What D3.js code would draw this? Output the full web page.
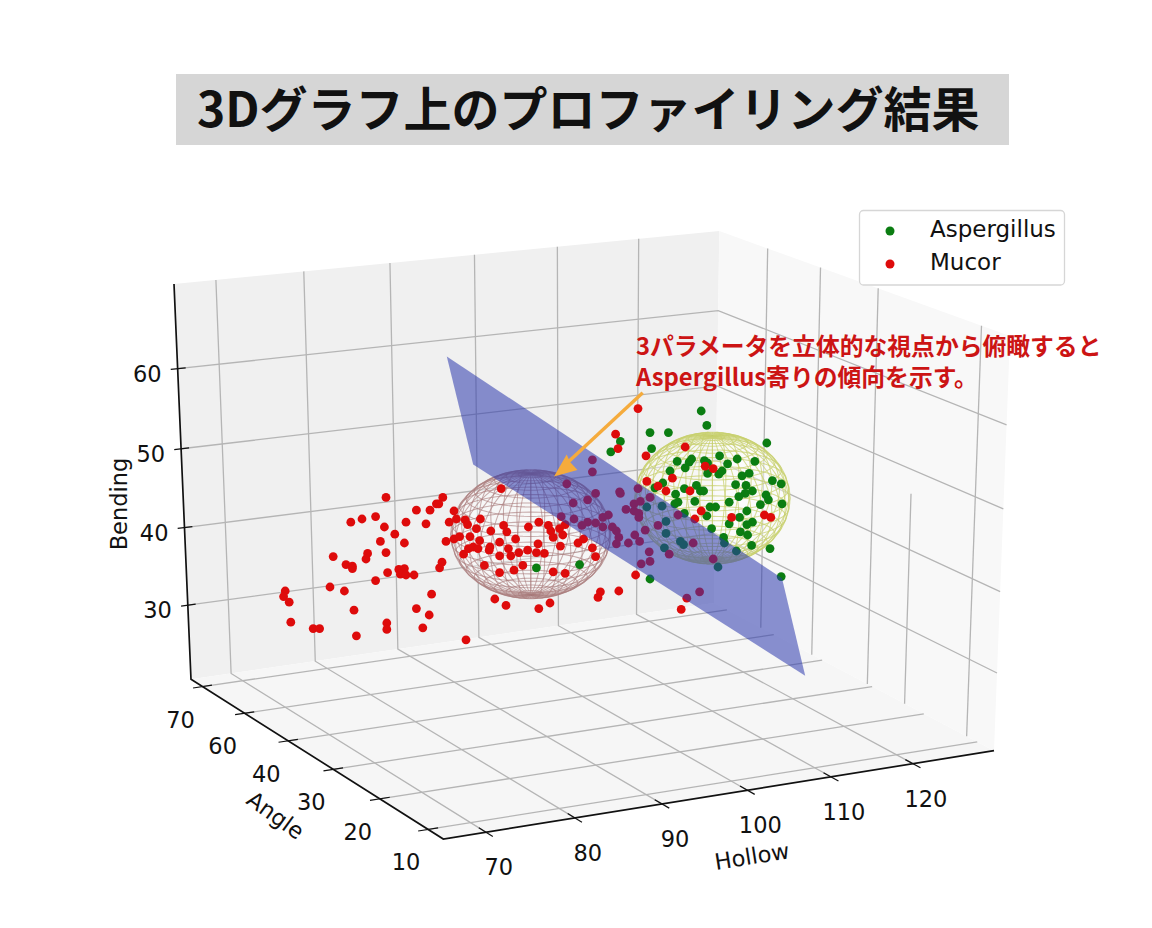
<!DOCTYPE html>
<html lang="ja">
<head>
<meta charset="utf-8">
<script src="https://cdn.jsdelivr.net/npm/d3@7"></script>
<style>
  body { margin: 0; background: #fff; }
  svg { display: block; }
  text { font-family: "DejaVu Sans", sans-serif; fill: #111; }
  .cjk { font-family: "Noto Sans CJK JP", sans-serif; }
</style>
</head>
<body>
<div id="chart"></div>
<script>
var hollowTicks = [70, 80, 90, 100, 110, 120];
var angleTicks = [10, 20, 30, 40, 60, 70];
var bendingTicks = [30, 40, 50, 60];

// Hollow / Bending as read on the picture plane
var mucorHollow = [57.0,64.1,63.3,63.6,60.8,62.5,65.5,52.6,54.0,55.7,56.8,59.5,62.0,64.9,58.1,56.3,59.3,64.5,65.5,50.4,54.7,54.5,57.0,64.0,63.7,52.0,52.8,52.8,57.2,58.6,59.3,58.8,59.5,60.5,55.7,50.0,51.8,44.4,44.2,44.9,62.7,60.8,62.4,53.0,45.1,47.9,48.7,57.1,57.1,61.6,53.3,
  71.4,79.6,65.8,66.9,67.2,68.8,68.3,70.1,71.7,72.1,74.8,76.1,77.3,77.6,77.9,79.1,78.7,79.4,66.2,67.5,68.7,71.2,73.2,76.0,78.8,81.0,81.7,82.8,83.2,66.7,67.3,67.9,68.5,69.9,70.0,72.3,71.2,72.6,73.6,74.7,75.8,76.8,69.3,73.0,74.1,71.2,77.9,79.4,70.6,72.0,76.1,77.5,83.8,83.5,86.1,67.0,
  82.8,82.8,80.4,82.2,83.2,86.3,86.2,87.0,78.9,80.5,82.2,81.5,83.2,84.1,84.8,84.1,85.3,85.8,86.1,85.8,87.3,
  88.5,85.7,86.0,89.5,94.4,96.9,97.9,92.8,92.0,95.0,96.4,100.2,104.3,105.1,88.2,92.4,93.9,88.5,90.0,88.8,88.0,88.0,88.6,88.6,88.1,88.7,89.9,90.0,88.9,93.5,95.6,91.0,95.4,97.9,94.6,96.2,89.6,91.0,89.4];
var mucorBending = [43.2,43.2,42.4,42.4,41.6,41.6,41.5,40.1,40.5,40.8,39.5,40.1,39.9,40.1,38.6,37.7,37.5,37.7,38.0,35.8,36.2,35.5,36.3,35.1,34.4,34.8,34.6,34.3,33.8,34.2,34.3,33.6,33.5,33.5,32.8,32.0,31.5,31.5,30.8,30.1,31.1,29.3,28.5,29.1,27.6,26.8,26.8,27.5,26.7,26.9,25.9,
  44.3,44.9,40.5,40.4,39.8,40.5,39.3,39.0,39.7,38.9,39.5,40.1,39.7,39.0,38.2,38.5,39.3,39.8,38.3,38.3,37.8,37.6,38.0,37.4,37.1,37.5,38.0,36.9,35.8,36.1,36.8,37.0,36.8,36.6,37.0,36.8,35.9,35.9,36.3,36.6,36.3,36.2,34.7,34.1,34.7,33.8,33.9,33.7,30.5,29.7,29.3,30.0,31.4,30.7,31.5,25.4,
  46.4,47.9,42.5,42.9,43.7,43.7,43.9,41.7,40.8,40.5,40.1,39.7,40.0,40.7,41.0,39.5,39.5,39.0,38.2,37.4,37.5,
  54.3,51.1,49.3,48.4,49.5,47.1,46.8,45.6,44.0,44.0,41.5,40.7,41.0,40.7,33.5,36.1,29.2,44.3,43.2,42.7,42.4,41.5,41.2,40.7,38.5,37.7,36.4,35.2,34.9,41.0,40.5,39.7,37.5,35.5,30.6,31.4,45.2,44.6,39.1];
var aspergillusHollow = [96.4,97.1,90.0,92.3,86.3,85.1,90.2,104.6,98.7,93.4,95.2,94.9,94.4,96.8,97.2,99.7,100.9,103.1,92.5,97.2,98.6,99.0,101.5,102.4,105.3,106.4,91.6,90.6,94.3,95.8,96.3,96.7,100.7,102.0,102.8,101.9,101.1,104.5,104.8,93.2,93.5,95.6,99.9,103.8,106.5,97.5,98.2,102.1,97.1,101.2,102.8,102.1,99.9,101.3,102.2,102.7,105.0,
  91.5,93.1,89.6,94.3,92.0,97.7,92.0,99.2,99.3,93.8,94.2,91.8,100.8,98.5,90.0,106.4,75.8,81.2];
var aspergillusBending = [54.0,52.2,51.3,51.3,50.2,48.9,49.3,50.0,48.4,47.7,48.0,47.6,46.9,47.8,47.5,47.4,48.0,47.7,46.5,46.2,46.1,46.5,45.9,46.2,45.3,44.9,45.0,44.4,44.3,44.7,44.0,44.0,44.8,44.7,44.0,43.7,43.3,43.5,42.9,43.6,42.6,42.7,42.6,42.3,42.4,42.0,42.0,41.5,40.9,40.7,40.1,39.8,39.9,38.9,38.5,37.2,36.8,
  42.1,42.4,42.0,41.2,40.2,39.3,38.7,38.2,37.5,37.7,37.3,36.9,36.5,34.5,33.0,33.3,34.4,34.8];

var planeHollow = [64.6, 106.5, 109.4, 67.9];
var planeBending = [60.8, 33.1, 20.9, 47.3];

var width = 1152, height = 928;

var svg = d3.select("#chart").append("svg")
    .attr("width", width)
    .attr("height", height);

// picture plane scales
var viewX = d3.scaleLinear().domain([60, 130]).range([410, 970]);
var viewY = d3.scaleLinear().domain([20, 70]).range([683, 283]);

// box axes, mapped to unit cube
var hollowT = d3.scaleLinear().domain([65.3, 130.1]).range([0, 1]);
var angleT = d3.scalePoint().domain(angleTicks).range([0.055, 0.95]);
var bendingT = d3.scaleLinear().domain([20.3, 70.4]).range([0, 1]);

// fit the perspective of the box from its visible corners
var boxCorners = [
    [0, 0, 0, 443.3, 839],
    [0, 1, 0, 191, 679.3],
    [0, 1, 1, 174, 284],
    [1, 0, 0, 994, 750.7],
    [1, 1, 0, 714, 603],
    [1, 1, 1, 719.3, 231],
    [1, 0, 1, 1010, 336]
];

function fitCamera(corners) {
    var rows = [];
    corners.forEach(function(c) {
        rows.push([c[0], c[1], c[2], 1, 0, 0, 0, 0, -c[3]*c[0], -c[3]*c[1], -c[3]*c[2], c[3]]);
        rows.push([0, 0, 0, 0, c[0], c[1], c[2], 1, -c[4]*c[0], -c[4]*c[1], -c[4]*c[2], c[4]]);
    });
    var n = 11;
    var m = d3.range(n).map(function(i) {
        return d3.range(n + 1).map(function(j) {
            return d3.sum(rows, function(r) { return r[i]*r[j]; });
        });
    });
    for (var i = 0; i < n; i++) {
        var best = i;
        for (var k = i + 1; k < n; k++) if (Math.abs(m[k][i]) > Math.abs(m[best][i])) best = k;
        var tmp = m[i]; m[i] = m[best]; m[best] = tmp;
        for (var r = 0; r < n; r++) {
            if (r === i) continue;
            var f = m[r][i]/m[i][i];
            for (var j = i; j <= n; j++) m[r][j] -= f*m[i][j];
        }
    }
    return d3.range(n).map(function(i) { return m[i][n]/m[i][i]; });
}

var cam = fitCamera(boxCorners);

function projectRaw(u, v, w) {
    var d = cam[8]*u + cam[9]*v + cam[10]*w + 1;
    return [(cam[0]*u + cam[1]*v + cam[2]*w + cam[3])/d, (cam[4]*u + cam[5]*v + cam[6]*w + cam[7])/d];
}

// what the fit misses at each corner, spread back over the box
var cornerMiss = boxCorners.map(function(c) {
    var p = projectRaw(c[0], c[1], c[2]);
    return [c[0], c[1], c[2], c[3] - p[0], c[4] - p[1]];
});

function project(u, v, w) {
    var p = projectRaw(u, v, w);
    cornerMiss.forEach(function(c) {
        var k = (c[0] ? u : 1 - u)*(c[1] ? v : 1 - v)*(c[2] ? w : 1 - w);
        p[0] += k*c[3];
        p[1] += k*c[4];
    });
    return p;
}

function polyPoints(list) {
    return list.map(function(c) { return project(c[0], c[1], c[2]).join(","); }).join(" ");
}

// panes
var panes = svg.append("g");
panes.append("polygon").attr("points", polyPoints([[0,1,0],[1,1,0],[1,1,1],[0,1,1]])).attr("fill", "#f0f0f0");
panes.append("polygon").attr("points", polyPoints([[0,0,0],[1,0,0],[1,1,0],[0,1,0]])).attr("fill", "#f6f6f6");
panes.append("polygon").attr("points", polyPoints([[1,0,0],[1,1,0],[1,1,1],[1,0,1]])).attr("fill", "#f8f8f8");

// grid
var grid = svg.append("g")
    .attr("stroke", "#b5b5b5")
    .attr("stroke-width", 1.3)
    .attr("fill", "none");

function gridLine(list) {
    grid.append("polyline").attr("points", polyPoints(list));
}

hollowTicks.forEach(function(t) {
    var u = hollowT(t);
    gridLine([[u,0,0],[u,1,0],[u,1,1]]);
});
angleTicks.forEach(function(t) {
    var v = angleT(t);
    gridLine([[0,v,0],[1,v,0]]);
});
bendingTicks.forEach(function(t) {
    var w = bendingT(t);
    gridLine([[0,1,w],[1,1,w],[1,0,w]]);
});
// the right wall verticals do not sit on the floor lines in the reference
var wallDepth = [0.09, 0.30, 0.43, 0.63, 0.82];
var wallTop = [1, bendingT(47), 1, 1, 1];
wallDepth.forEach(function(v, i) {
    gridLine([[1,v,0],[1,v,wallTop[i]]]);
});

// axis lines and ticks
var axes = svg.append("g")
    .attr("stroke", "#111")
    .attr("fill", "none");
axes.append("polyline").attr("stroke-width", 1.7).attr("points", polyPoints([[1,0,0],[0,0,0],[0,1,0],[0,1,1]]));

hollowTicks.forEach(function(t) {
    var u = hollowT(t);
    axes.append("polyline").attr("stroke-width", 1.2).attr("points", polyPoints([[u,-0.025,0],[u,0.025,0]]));
    var p = project(u, 0, 0);
    svg.append("text").attr("x", p[0] + 13).attr("y", p[1] + 35)
        .attr("text-anchor", "middle").attr("dy", "0.36em")
        .attr("font-size", 22.5).text(t);
});
angleTicks.forEach(function(t) {
    var v = angleT(t);
    axes.append("polyline").attr("stroke-width", 1.2).attr("points", polyPoints([[-0.017,v,0],[0.017,v,0]]));
    var p = project(0, v, 0);
    svg.append("text").attr("x", p[0] - 22).attr("y", p[1] + 33)
        .attr("text-anchor", "middle").attr("dy", "0.36em")
        .attr("font-size", 22.5).text(t);
});
bendingTicks.forEach(function(t) {
    var w = bendingT(t);
    axes.append("polyline").attr("stroke-width", 1.2).attr("points", polyPoints([[-0.012,1,w],[0.014,1,w]]));
    var p = project(0, 1, w);
    svg.append("text").attr("x", p[0] - 16).attr("y", p[1] + 5)
        .attr("text-anchor", "end").attr("dy", "0.36em")
        .attr("font-size", 22.5).text(t);
});

function axisTitle(label, x, y, rot) {
    svg.append("text")
        .attr("transform", "translate(" + x + "," + y + ") rotate(" + rot + ")")
        .attr("text-anchor", "middle").attr("dy", "0.36em")
        .attr("font-size", 22.5).text(label);
}
axisTitle("Hollow", 752, 856, -9);
axisTitle("Angle", 275.7, 815, 36);
axisTitle("Bending", 119, 504, -90);

// sphere wireframes
var tilt = 20*Math.PI/180;
var wireLine = d3.line()
    .x(function(d) { return d[0]; })
    .y(function(d) { return d[1]; });

function sphereBack(s) {
    svg.append("ellipse")
        .attr("cx", viewX(s.h)).attr("cy", viewY(s.b))
        .attr("rx", viewX(s.h + s.rh) - viewX(s.h))
        .attr("ry", viewY(s.b) - viewY(s.b + s.rb))
        .attr("fill", "#fff").attr("fill-opacity", 0.45);
}

function sphereWire(s) {
    function pt(lat, lon) {
        var x = Math.cos(lat)*Math.sin(lon);
        var y = Math.sin(lat);
        var z = Math.cos(lat)*Math.cos(lon);
        var yy = y*Math.cos(tilt) - z*Math.sin(tilt);
        return [viewX(s.h + s.rh*x), viewY(s.b + s.rb*yy)];
    }
    var g = svg.append("g").attr("fill", "none").attr("stroke", s.color).attr("stroke-width", 1.05);
    d3.range(1, 20).forEach(function(i) {
        var lat = -Math.PI/2 + i*Math.PI/20;
        g.append("path").attr("d", wireLine(d3.range(0, 61).map(function(k) { return pt(lat, k*Math.PI/30); })));
    });
    d3.range(0, 36).forEach(function(i) {
        var lon = i*Math.PI/18;
        g.append("path").attr("d", wireLine(d3.range(0, 37).map(function(k) { return pt(-Math.PI/2 + k*Math.PI/36, lon); })));
    });
}

var mucorSphere = { h: 75.1, b: 38.6, rh: 10.0, rb: 8.06, color: "rgba(170,125,125,0.62)" };
var aspergillusSphere = { h: 97.8, b: 43.1, rh: 9.7, rb: 8.25, color: "rgba(200,208,110,0.72)" };
sphereBack(mucorSphere);
sphereBack(aspergillusSphere);
sphereWire(mucorSphere);
sphereWire(aspergillusSphere);

// points
svg.append("g").selectAll("circle").data(aspergillusHollow).join("circle")
    .attr("cx", function(d) { return viewX(d); })
    .attr("cy", function(d, i) { return viewY(aspergillusBending[i]); })
    .attr("r", 4.4)
    .attr("fill", "#0b7d12");
svg.append("g").selectAll("circle").data(mucorHollow).join("circle")
    .attr("cx", function(d) { return viewX(d); })
    .attr("cy", function(d, i) { return viewY(mucorBending[i]); })
    .attr("r", 4.4)
    .attr("fill", "#de0b0b");

// decision plane
svg.append("polygon")
    .attr("points", planeHollow.map(function(h, i) { return viewX(h) + "," + viewY(planeBending[i]); }).join(" "))
    .attr("fill", "#2c39ad")
    .attr("fill-opacity", 0.55);

// arrow
svg.append("line")
    .attr("x1", 642.7).attr("y1", 392.7).attr("x2", 566).attr("y2", 464)
    .attr("stroke", "#f5ab3c").attr("stroke-width", 3.4);
svg.append("polygon")
    .attr("points", "554,476.5 566.7,454.5 570,462 577.5,470")
    .attr("fill", "#f5ab3c");

// annotation
var note = svg.append("text").attr("class", "cjk")
    .attr("font-size", 23.8).attr("font-weight", 700)
    .style("fill", "#cc1414");
note.append("tspan").attr("x", 636).attr("y", 355).text("3パラメータを立体的な視点から俯瞰すると");
note.append("tspan").attr("x", 636).attr("y", 386).text("Aspergillus寄りの傾向を示す。");

// legend
svg.append("rect")
    .attr("x", 859.5).attr("y", 210.5).attr("width", 205).attr("height", 74.5)
    .attr("rx", 4)
    .attr("fill", "#fff")
    .attr("stroke", "#d6d6d6")
    .attr("stroke-width", 1.3);
var legendNames = ["Aspergillus", "Mucor"];
var legendColors = ["#0b7d12", "#de0b0b"];
legendNames.forEach(function(name, i) {
    svg.append("circle").attr("cx", 890).attr("cy", 231 + i*33).attr("r", 4.5).attr("fill", legendColors[i]);
    svg.append("text").attr("x", 930).attr("y", 237 + i*33).attr("font-size", 23).text(name);
});

// title
svg.append("rect").attr("x", 176).attr("y", 74).attr("width", 833).attr("height", 71).attr("fill", "#d6d6d6");
svg.append("text").attr("class", "cjk")
    .attr("x", 197).attr("y", 127)
    .attr("font-size", 48).attr("font-weight", 700)
    .text("3Dグラフ上のプロファイリング結果");
</script>
</body>
</html>
